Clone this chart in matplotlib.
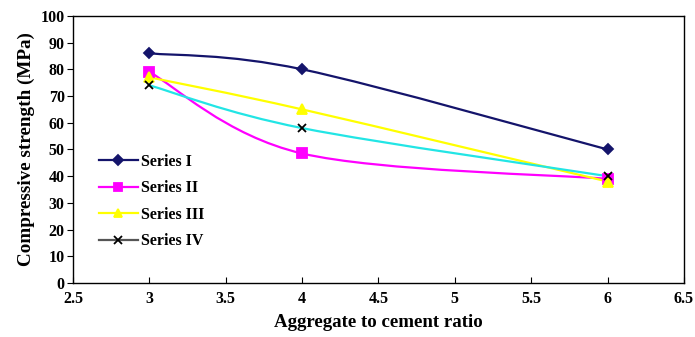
import numpy as np
import matplotlib
matplotlib.use('Agg')
import matplotlib.pyplot as plt
from matplotlib.path import Path
from matplotlib.patches import PathPatch
from matplotlib.lines import Line2D

# Daten
ratio = [3, 4, 6]
series_1 = [86, 80, 50]
series_2 = [79, 48.5, 39]
series_3 = [77, 65, 38]
series_4 = [74, 58, 40]
names = ['Series I', 'Series II', 'Series III', 'Series IV']

plt.rcParams['font.family'] = 'Liberation Serif'
plt.rcParams['font.weight'] = 'bold'
plt.rcParams['axes.labelweight'] = 'bold'
plt.rcParams['font.size'] = 11.5


def smooth_path(x, y):
    # geglaettete Linie wie in Excel (Bezier durch die Punkte)
    p = np.column_stack([x, y]).astype(float)
    n = len(p)
    verts = [p[0]]
    codes = [Path.MOVETO]
    for i in range(n - 1):
        p0 = p[max(i - 1, 0)]
        p3 = p[min(i + 2, n - 1)]
        c1 = p[i] + (p[i + 1] - p0) / 6
        c2 = p[i + 1] - (p3 - p[i]) / 6
        verts += [c1, c2, p[i + 1]]
        codes += [Path.CURVE4] * 3
    return Path(verts, codes)


fig = plt.figure(figsize=(6.95, 3.37), dpi=100)
ax = fig.add_axes([0.105, 0.160, 0.879, 0.793])

styles = [
    (series_1, '#14146b', 'D', '#14146b', 5.5),
    (series_2, '#ff00ff', 's', '#ff00ff', 7.5),
    (series_3, '#ffff00', '^', '#ffff00', 7.5),
    (series_4, '#22e5e5', 'x', 'black', 6),
]
handles = []
for (werte, farbe, marker, mfarbe, ms), name in zip(styles, names):
    ax.add_patch(PathPatch(smooth_path(ratio, werte), facecolor='none',
                           edgecolor=farbe, lw=1.6, zorder=2))
    ax.plot(ratio, werte, linestyle='none', marker=marker, color=mfarbe,
            markersize=ms, markeredgewidth=1.3, zorder=3)
    lc = '#555555' if name == 'Series IV' else farbe
    handles.append(Line2D([], [], color=lc, lw=1.6, marker=marker,
                          markerfacecolor=mfarbe, markeredgecolor=mfarbe,
                          markersize=ms * 0.85, markeredgewidth=1.3))

ax.set_xlim(2.5, 6.5)
ax.set_ylim(0, 100)
ax.set_xticks(np.arange(2.5, 6.51, 0.5))
ax.set_xticklabels(['2.5', '3', '3.5', '4', '4.5', '5', '5.5', '6', '6.5'])
ax.set_yticks(np.arange(0, 101, 10))
ax.tick_params(axis='x', direction='in', length=4, pad=6)
ax.tick_params(axis='y', direction='out', length=4, pad=2)
for s in ax.spines.values():
    s.set_linewidth(1.0)

ax.set_xlabel('Aggregate to cement ratio', fontsize=13.6, labelpad=5)
ax.set_ylabel('Compressive strength (MPa)', fontsize=13.8, labelpad=4)

ax.legend(handles=handles, labels=names, loc='upper left',
          bbox_to_anchor=(0.0, 0.58), frameon=False, handlelength=2.5,
          handletextpad=0.15, labelspacing=0.66, borderaxespad=1.2,
          fontsize=11.5)

fig.savefig('out.png', dpi=100)
